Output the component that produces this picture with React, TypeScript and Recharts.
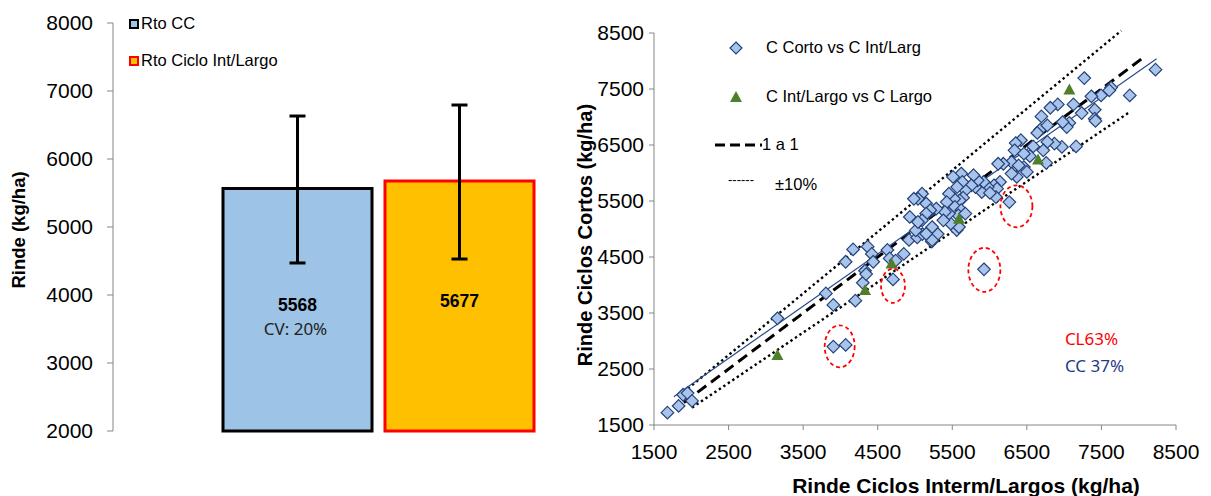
import React from 'react';
import {
    BarChart, Bar, XAxis, YAxis, ErrorBar, LabelList,
    ScatterChart, Scatter, ReferenceLine, ReferenceDot, Label,
} from 'recharts';

// ---- left chart: mean yield per cycle
const barCategories = [''];
const ccMean = [5568];
const clMean = [5677];
const ccErr = [[1097, 1064]];
const clErr = [[1148, 1117]];
const leftTicks = [2000, 3000, 4000, 5000, 6000, 7000, 8000];

// ---- right chart: short vs intermediate/long cycles
const rightTicks = [1500, 2500, 3500, 4500, 5500, 6500, 7500, 8500];

const cortoVsIntLarg: [number, number][] = [
    [1680, 1720], [1830, 1840], [1890, 2040], [1950, 2070], [2010, 1930],
    [3155, 3405], [3805, 3850], [3905, 3645], [3905, 2900], [4070, 2930],
    [4070, 4415], [4170, 4635], [4200, 3720], [4300, 4040], [4330, 4255], [4345, 4195],
    [4365, 4685], [4420, 4555], [4440, 4415], [4630, 4625], [4660, 4475], [4705, 4100],
    [4740, 4435], [4850, 4555], [4920, 4805], [5030, 4850], [5100, 4910], [5225, 4775],
    [5305, 4910], [5560, 4980], [5925, 4280],
    [8225, 7845], [7270, 7695], [7630, 7525], [7605, 7475], [7495, 7385], [7365, 7370],
    [7880, 7385], [7410, 7130], [7410, 6970], [7420, 6930], [7125, 7225], [7235, 7070],
    [7160, 6475], [7070, 6895], [7035, 6820], [6980, 6910], [6915, 7225], [6815, 7165],
    [6695, 7010], [6680, 6775], [6640, 6715], [6775, 6850], [6970, 6465], [6870, 6525],
    [6775, 6555], [6720, 6405], [6760, 6180], [6585, 6475], [6540, 6300], [6420, 6585],
    [6350, 6535], [6335, 6405], [6460, 6345], [6295, 6195], [6185, 6165], [6115, 6165],
    [6460, 6105], [6390, 6135], [6500, 6020], [6365, 5930], [6295, 5990], [6140, 5840],
    [6060, 5780], [6100, 5720], [6085, 5570], [6265, 5480], [5975, 5750], [5895, 5660],
    [6005, 5645], [5920, 5840], [5810, 5750], [5840, 5870], [5785, 5960], [5755, 5780],
    [5675, 5690], [5620, 5990], [5510, 5930], [5635, 5840], [5565, 5750], [5645, 5560],
    [5600, 5510], [5525, 5540], [5455, 5630], [5425, 5480], [5535, 5395], [5620, 5335],
    [5580, 5245], [5675, 5275], [5590, 5035], [5480, 5095], [5455, 5275], [5400, 5305],
    [5380, 5155], [5285, 5365], [5150, 5455], [5095, 5630], [5205, 5335], [5040, 5540],
    [4985, 5540], [5150, 5275], [5095, 5155], [5010, 4975], [4930, 5215], [5040, 5125],
    [5230, 5035], [5230, 4800], [5150, 4915],
];

const intLargVsLargo: [number, number][] = [
    [3155, 2750], [4330, 3910], [4685, 4385], [5590, 5185], [6650, 6240], [7070, 7490],
];

const oneToOne = [{ x: 1900, y: 1900 }, { x: 8050, y: 8050 }];
const plus10 = [{ x: 1955, y: 2150 }, { x: 7765, y: 8540 }];
const minus10 = [{ x: 2010, y: 1810 }, { x: 7880, y: 7090 }];
const regression = [{ x: 1765, y: 2005 }, { x: 8240, y: 8040 }];

const outliers: [number, number][] = [[3990, 2905], [4705, 3985], [5930, 4270], [6360, 5405]];
const shares = ['CL63%', 'CC 37%'];
const shareColors = ['#FF0000', '#1F3A8A'];
const shareAnchors: [number, number][] = [[7010, 3040], [7010, 2560]];

const FONT = "'Liberation Sans', Arial, sans-serif";
const AXIS = '#868686';

const Diamond = (props: any) => {
    const { cx, cy } = props;
    if (cx == null || cy == null) return null;
    const r = 6.3;
    return (
        <polygon
            points={`${cx},${cy - r} ${cx + r},${cy} ${cx},${cy + r} ${cx - r},${cy}`}
            fill="#A9C4EB"
            stroke="#24427A"
            strokeWidth={1.2}
        />
    );
};

const Triangle = (props: any) => {
    const { cx, cy } = props;
    if (cx == null || cy == null) return null;
    return <polygon points={`${cx},${cy - 6} ${cx + 6},${cy + 5} ${cx - 6},${cy + 5}`} fill="#4F7F2A" />;
};

function BarLabel(props: any) {
    const { x, y, width, height, extra } = props;
    const cx = x + width / 2;
    const cy = y + height / 2;
    return (
        <g>
            <text x={cx} y={cy - 5} textAnchor="middle" dominantBaseline="central"
                fontFamily={FONT} fontWeight="bold" fontSize={17.5} fill="#000">
                {props.value}
            </text>
            {extra && (
                <text x={cx - 2} y={cy + 19} textAnchor="middle" dominantBaseline="central"
                    fontFamily="'Noto Sans', sans-serif" fontSize={17} fill="#222">
                    {extra}
                </text>
            )}
        </g>
    );
}

function LeftChart() {
    const data = barCategories.map((c, i) => ({
        name: c, cc: ccMean[i], ccErr: ccErr[i], cl: clMean[i], clErr: clErr[i],
    }));
    return (
        <BarChart width={643} height={496} data={data} barSize={149} barGap={13}
            margin={{ top: 23, right: 0, left: 0, bottom: 65 }}>
            <XAxis dataKey="name" hide />
            <YAxis
                domain={[2000, 8000]}
                ticks={leftTicks}
                width={113}
                axisLine={{ stroke: AXIS }}
                tickLine={{ stroke: AXIS }}
                tickSize={6}
                tickMargin={14}
                tick={{ fontSize: 21, fill: '#000', fontFamily: FONT }}
            >
                <Label
                    content={() => (
                        <text x={18} y={230} transform="rotate(-90 18 230)" textAnchor="middle"
                            dominantBaseline="central" fontFamily={FONT} fontWeight="bold" fontSize={18.5}>
                            Rinde (kg/ha)
                        </text>
                    )}
                />
            </YAxis>
            <Bar dataKey="cc" fill="#9DC3E6" stroke="#000" strokeWidth={3} isAnimationActive={false}>
                <ErrorBar dataKey="ccErr" direction="y" width={8} strokeWidth={3} stroke="#000" />
                <LabelList dataKey="cc" content={(p: any) => <BarLabel {...p} extra="CV: 20%" />} />
            </Bar>
            <Bar dataKey="cl" fill="#FFC000" stroke="#FF0000" strokeWidth={3} isAnimationActive={false}>
                <ErrorBar dataKey="clErr" direction="y" width={8} strokeWidth={3} stroke="#000" />
                <LabelList dataKey="cl" content={(p: any) => <BarLabel {...p} />} />
            </Bar>
        </BarChart>
    );
}

function RightChart() {
    const cc = cortoVsIntLarg.map(([x, y]) => ({ x, y }));
    const cl = intLargVsLargo.map(([x, y]) => ({ x, y }));
    const ellipseSize = [[15, 21], [12, 17], [16, 22], [16, 21]];
    return (
        <ScatterChart width={646} height={496} margin={{ top: 33, right: 35, left: 0, bottom: 0 }}>
            <XAxis
                type="number"
                dataKey="x"
                domain={[1500, 8500]}
                ticks={rightTicks}
                allowDataOverflow
                height={71}
                axisLine={{ stroke: AXIS }}
                tickLine={{ stroke: AXIS }}
                tickSize={5}
                tickMargin={14}
                tick={{ fontSize: 21, fill: '#000', fontFamily: FONT }}
            >
                <Label
                    content={() => (
                        <text x={401} y={485} textAnchor="middle" dominantBaseline="central"
                            fontFamily={FONT} fontWeight="bold" fontSize={21}>
                            Rinde Ciclos Interm/Largos (kg/ha)
                        </text>
                    )}
                />
            </XAxis>
            <YAxis
                type="number"
                dataKey="y"
                domain={[1500, 8500]}
                ticks={rightTicks}
                allowDataOverflow
                width={89}
                axisLine={{ stroke: AXIS }}
                tickLine={{ stroke: AXIS }}
                tickSize={5}
                tickMargin={5}
                tick={{ fontSize: 21, fill: '#000', fontFamily: FONT }}
            >
                <Label
                    content={() => (
                        <text x={20} y={235} transform="rotate(-90 20 235)" textAnchor="middle"
                            dominantBaseline="central" fontFamily={FONT} fontWeight="bold" fontSize={20}>
                            Rinde Ciclos Cortos (kg/ha)
                        </text>
                    )}
                />
            </YAxis>
            <ReferenceLine segment={plus10} stroke="#000" strokeWidth={2.4} strokeDasharray="2.4 3" ifOverflow="visible" />
            <ReferenceLine segment={minus10} stroke="#000" strokeWidth={2.4} strokeDasharray="2.4 3" ifOverflow="visible" />
            <ReferenceLine segment={oneToOne} stroke="#000" strokeWidth={3} strokeDasharray="11 6" ifOverflow="visible" />
            <ReferenceLine segment={regression} stroke="#2B4C8C" strokeWidth={1.2} ifOverflow="visible" />
            <Scatter data={cc} shape={Diamond} isAnimationActive={false} />
            <Scatter data={cl} shape={Triangle} isAnimationActive={false} />
            {outliers.map(([x, y], i) => (
                <ReferenceDot key={i} x={x} y={y} r={1} ifOverflow="visible"
                    shape={(p: any) => (
                        <ellipse cx={p.cx} cy={p.cy} rx={ellipseSize[i][0]} ry={ellipseSize[i][1]}
                            fill="none" stroke="#FF0000" strokeWidth={1.8} strokeDasharray="4 3" />
                    )}
                />
            ))}
            {shares.map((s, i) => (
                <ReferenceDot key={s} x={shareAnchors[i][0]} y={shareAnchors[i][1]} r={1} ifOverflow="visible"
                    shape={(p: any) => (
                        <text x={p.cx} y={p.cy} dominantBaseline="central" fill={shareColors[i]}
                            fontFamily="'Noto Sans', sans-serif" fontSize={17}>
                            {s}
                        </text>
                    )}
                />
            ))}
        </ScatterChart>
    );
}

export default function App() {
    const legendText: React.CSSProperties = { fontFamily: FONT, fontSize: 16.5, color: '#000', position: 'absolute', whiteSpace: 'nowrap' };
    return (
        <div style={{ position: 'absolute', left: 0, top: 0, width: 1211, height: 496, background: '#fff', overflow: 'hidden' }}>
            <div style={{ position: 'absolute', left: 0, top: 0 }}>
                <LeftChart />
            </div>
            <div style={{ position: 'absolute', left: 565, top: 0 }}>
                <RightChart />
            </div>

            {/* left legend */}
            <div style={{ position: 'absolute', left: 129, top: 19, width: 10, height: 10, boxSizing: 'border-box', border: '2.5px solid #000', background: '#9DC3E6' }} />
            <div style={{ ...legendText, left: 141, top: 14 }}>Rto CC</div>
            <div style={{ position: 'absolute', left: 129, top: 56, width: 10, height: 10, boxSizing: 'border-box', border: '2.5px solid #FF0000', background: '#FFC000' }} />
            <div style={{ ...legendText, left: 141, top: 51 }}>Rto Ciclo Int/Largo</div>

            {/* right legend */}
            <svg style={{ position: 'absolute', left: 700, top: 30 }} width={70} height={170}>
                <polygon points="36,12 42,18 36,24 30,18" fill="#A9C4EB" stroke="#24427A" strokeWidth={1.2} />
                <polygon points="36,61 42,72 30,72" fill="#4F7F2A" />
                <line x1={15} y1={115} x2={62} y2={115} stroke="#000" strokeWidth={3} strokeDasharray="10 5" />
            </svg>
            <div style={{ ...legendText, left: 766, top: 38 }}>C Corto vs C Int/Larg</div>
            <div style={{ ...legendText, left: 766, top: 87 }}>C Int/Largo vs C Largo</div>
            <div style={{ ...legendText, left: 762, top: 135 }}>1 a 1</div>
            <div style={{ ...legendText, left: 728, top: 172, fontSize: 13 }}>------</div>
            <div style={{ ...legendText, left: 775, top: 175 }}>±10%</div>
        </div>
    );
}
